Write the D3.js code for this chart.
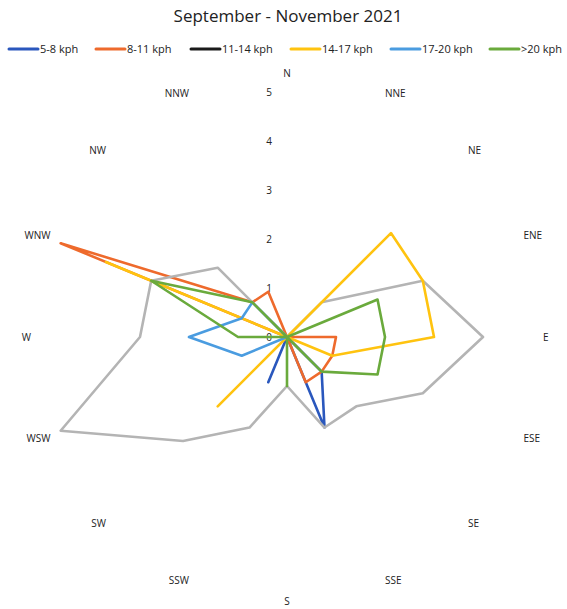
<!DOCTYPE html>
<html>
<head>
<meta charset="utf-8">
<script src="https://cdn.jsdelivr.net/npm/d3@7"></script>
<style>
  html, body { margin: 0; padding: 0; background: #fff; }
  svg { display: block; }
</style>
</head>
<body>
<svg id="chart" width="567" height="609"></svg>
<script>
const title = "September - November 2021";
const directions = ["N","NNE","NE","ENE","E","ESE","SE","SSE","S","SSW","SW","WSW","W","WNW","NW","NNW"];
const tickValues = [0, 1, 2, 3, 4, 5];
const seriesNames = ["5-8 kph", "8-11 kph", "11-14 kph", "14-17 kph", "17-20 kph", ">20 kph"];
const seriesColors = ["#2a57bd", "#ee6a2c", "#b4b4b4", "#ffc30f", "#4a9ce0", "#6aaa3c"];
const legendColors = ["#2a57bd", "#ee6a2c", "#1a1a1a", "#ffc30f", "#4a9ce0", "#6aaa3c"];
//                    N  NNE NE ENE E  ESE SE SSE S  SSW SW WSW W  WNW NW NNW
const kph5to8   = [0, 0, 0, 0, 0, 0, 1, 2, 0, 1, 0, 0, 0, 0, 0, 0];
const kph8to11  = [0, 0, 0, 0, 1, 1, 1, 1, 0, 0, 0, 0, 0, 5, 1, 1];
const kph11to14 = [0, 0, 1, 3, 4, 3, 2, 2, 1, 2, 3, 5, 3, 3, 2, 0];
const kph14to17 = [0, 0, 3, 3, 3, 1, 0, 0, 0, 0, 2, 0, 0, 4, 0, 0];
const kph17to20 = [0, 0, 0, 0, 0, 0, 0, 0, 0, 0, 0, 1, 2, 1, 1, 0];
const kphOver20 = [0, 0, 0, 2, 2, 2, 1, 0, 1, 0, 0, 0, 1, 3, 1, 0];
const seriesValues = [kph5to8, kph8to11, kph11to14, kph14to17, kph17to20, kphOver20];

const svg = d3.select("#chart");
const cx = 287, cy = 337;
const font = "'Open Sans', 'Liberation Sans', sans-serif";

const r = d3.scaleLinear().domain([0, 5]).range([0, 245]);
const angle = d3.scalePoint().domain(directions).range([0, 2 * Math.PI * (directions.length - 1) / directions.length]);

// Title
svg.append("text")
  .attr("x", 288).attr("y", 22)
  .attr("text-anchor", "middle")
  .attr("font-family", font)
  .attr("font-size", 17)
  .attr("fill", "#222")
  .text(title);

// Legend
const legendX = [9, 96, 191, 291, 391, 490];
const legend = svg.append("g");
seriesNames.forEach((name, i) => {
  const g = legend.append("g").attr("transform", `translate(${legendX[i]},49)`);
  g.append("line").attr("x1", 0).attr("x2", 29).attr("y1", 0).attr("y2", 0)
    .attr("stroke", legendColors[i]).attr("stroke-width", 3).attr("stroke-linecap", "round");
  g.append("text").attr("x", 31).attr("y", 0).attr("dy", "0.35em")
    .attr("font-family", font).attr("font-size", 11).attr("fill", "#222")
    .text(name);
});

const plot = svg.append("g").attr("transform", `translate(${cx},${cy})`);

// Tick labels
plot.selectAll("text.tick").data(tickValues).join("text")
  .attr("class", "tick")
  .attr("x", -18).attr("y", d => -r(d))
  .attr("dy", "0.35em")
  .attr("text-anchor", "middle")
  .attr("font-family", font).attr("font-size", 10).attr("fill", "#222")
  .text(d => d);

// Direction labels
const R = 256;
plot.selectAll("text.dir").data(directions).join("text")
  .attr("class", "dir")
  .attr("x", d => R * Math.sin(angle(d)))
  .attr("y", d => -R * Math.cos(angle(d)) - 8 * Math.cos(angle(d)))
  .attr("dy", "0.35em")
  .attr("text-anchor", d => {
    const s = Math.sin(angle(d));
    return s > 0.01 ? "start" : (s < -0.01 ? "end" : "middle");
  })
  .attr("font-family", font).attr("font-size", 10).attr("fill", "#222")
  .text(d => d);

// Series lines
const line = d3.lineRadial()
  .angle((d, i) => angle(directions[i]))
  .radius(d => r(d))
  .curve(d3.curveLinearClosed);

plot.selectAll("path.series").data(seriesValues).join("path")
  .attr("class", "series")
  .attr("d", d => line(d))
  .attr("fill", "none")
  .attr("stroke", (d, i) => seriesColors[i])
  .attr("stroke-width", 2.6)
  .attr("stroke-linejoin", "round");
</script>
</body>
</html>
